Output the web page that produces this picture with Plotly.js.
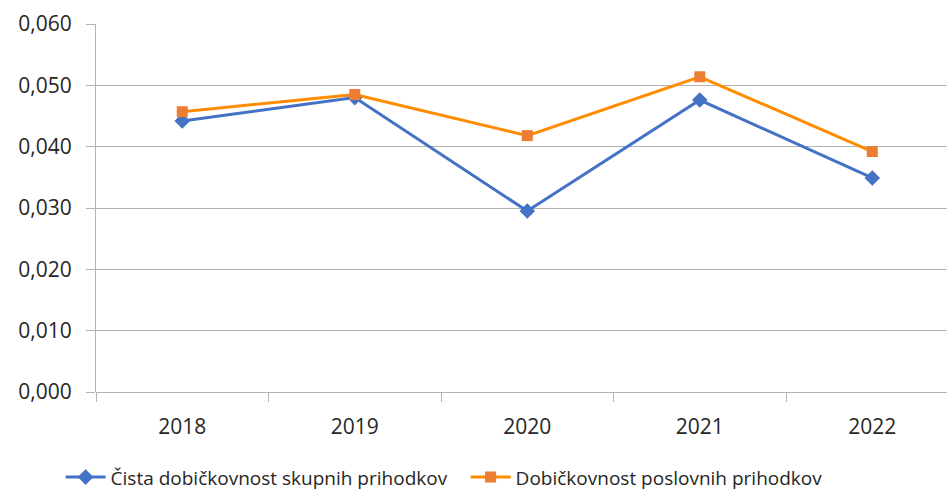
<!DOCTYPE html>
<html><head><meta charset="utf-8">
<script src="https://cdn.plot.ly/plotly-3.0.1.min.js"></script>
<style>html,body{margin:0;padding:0;background:#fff;}#chart{width:947px;height:490px;}</style>
</head><body><div id="chart"></div>
<script>
const years = ['2018', '2019', '2020', '2021', '2022'];
const cistaDobickovnost = [0.0442, 0.0480, 0.0295, 0.0476, 0.0349];
const poslovnaDobickovnost = [0.0457, 0.0485, 0.0418, 0.0514, 0.0392];
const seriesNames = ['Čista dobičkovnost skupnih prihodkov', 'Dobičkovnost poslovnih prihodkov'];
const yTicks = [0, 0.01, 0.02, 0.03, 0.04, 0.05, 0.06];

const font = {family: 'Open Sans, Liberation Sans, sans-serif', color: '#262626'};
const traces = [
  {x: years, y: cistaDobickovnost, name: seriesNames[0], type: 'scatter', mode: 'lines+markers',
   line: {color: '#4472C4', width: 3}, marker: {symbol: 'diamond', size: 12, color: '#4472C4'}},
  {x: years, y: poslovnaDobickovnost, name: seriesNames[1], type: 'scatter', mode: 'lines+markers',
   line: {color: '#FF8C00', width: 3}, marker: {symbol: 'square', size: 11, color: '#ED7D31'}}
];
const layout = {
  width: 947, height: 490,
  margin: {l: 96, r: 0, t: 24, b: 98},
  separators: ', ',
  paper_bgcolor: '#fff', plot_bgcolor: '#fff',
  font: font,
  showlegend: true,
  xaxis: {type: 'category', range: [-0.5, 4.433], showgrid: false, zeroline: false,
          ticks: 'outside', ticklen: 9, tickcolor: '#b3b3b3', tickson: 'boundaries',
          ticklabelstandoff: 20,
          tickfont: {size: 21, color: '#262626', family: font.family}, showline: false},
  yaxis: {range: [0, 0.06], tickvals: yTicks, tickformat: '.3f', showgrid: true, gridcolor: '#b3b3b3',
          gridwidth: 1, zeroline: true, zerolinecolor: '#b3b3b3', zerolinewidth: 1,
          showline: true, linecolor: '#b3b3b3', linewidth: 1,
          ticks: 'outside', ticklen: 9, tickcolor: '#b3b3b3', ticklabelstandoff: 10,
          tickfont: {size: 21, color: '#262626', family: font.family}},
  legend: {orientation: 'h', xref: 'container', yref: 'container', x: 0.064, xanchor: 'left',
           y: 0.026, yanchor: 'middle', font: {size: 19, color: '#262626', family: font.family},
           itemwidth: 40, entrywidth: 350, entrywidthmode: 'pixels'}
};
Plotly.newPlot('chart', traces, layout, {displayModeBar: false, staticPlot: true});
</script></body></html>
